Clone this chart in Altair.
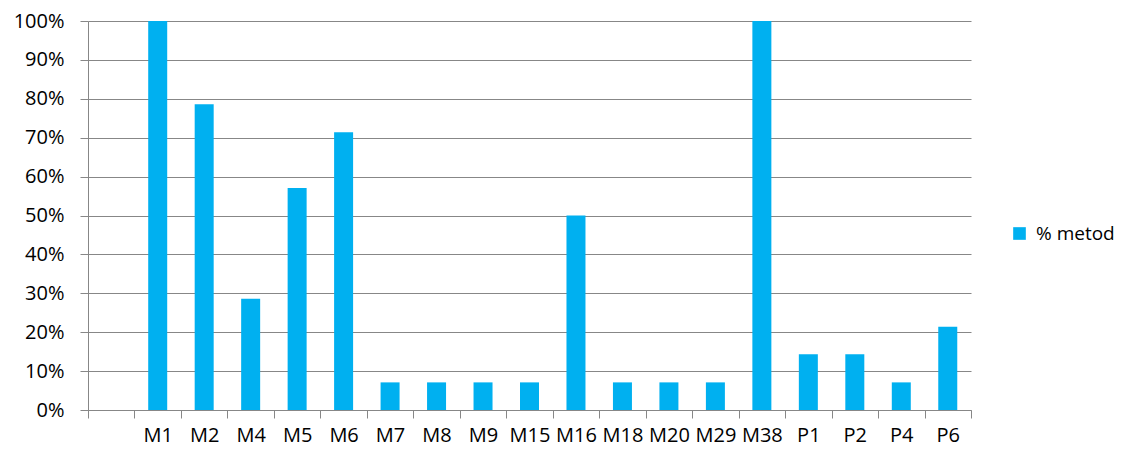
import altair as alt
import pandas as pd

categories = ["", "M1", "M2", "M4", "M5", "M6", "M7", "M8", "M9", "M15", "M16",
              "M18", "M20", "M29", "M38", "P1", "P2", "P4", "P6"]
values = [None, 1.0, 0.786, 0.286, 0.571, 0.714, 0.071, 0.071, 0.071, 0.071, 0.5,
          0.071, 0.071, 0.071, 1.0, 0.143, 0.143, 0.071, 0.214]
series_name = "% metod"

df = pd.DataFrame({"cat": categories, "val": values, "series": [series_name] * len(categories)})

FONT = "Open Sans"
GRID = "#878787"

bars = alt.Chart(df).mark_bar(width=19).encode(
    x=alt.X("cat:N", sort=categories,
            scale=alt.Scale(domain=categories, paddingInner=0, paddingOuter=0),
            axis=alt.Axis(title=None, labelAngle=0, tickBand="extent", domainColor=GRID,
                          tickColor=GRID, tickSize=8, labelFontSize=20, labelFont=FONT,
                          labelColor="#000000", labelPadding=7, grid=False)),
    y=alt.Y("val:Q", scale=alt.Scale(domain=[0, 1]),
            axis=alt.Axis(title=None, format="%", values=[i / 10 for i in range(11)],
                          grid=True, gridColor=GRID, gridWidth=1, domainColor=GRID,
                          tickColor=GRID, tickSize=8, labelFontSize=20, labelFont=FONT,
                          labelColor="#000000", labelPadding=16)),
    color=alt.Color("series:N", scale=alt.Scale(range=["#00B0F0"]),
                    legend=alt.Legend(title=None, orient="none", legendX=922, legendY=203,
                                      symbolType="square", symbolSize=160,
                                      symbolStrokeWidth=0, labelFontSize=19,
                                      labelFont=FONT, labelColor="#000000",
                                      labelOffset=7)),
)

chart = bars.properties(
    width=883, height=389,
    padding={"left": 80, "top": 13, "right": 147, "bottom": 40},
    autosize=alt.AutoSizeParams(type="none"),
    background="#ffffff",
).configure_view(strokeWidth=0, stroke="transparent")

chart.save("out.html", embed_options={"renderer": "svg", "actions": False})
